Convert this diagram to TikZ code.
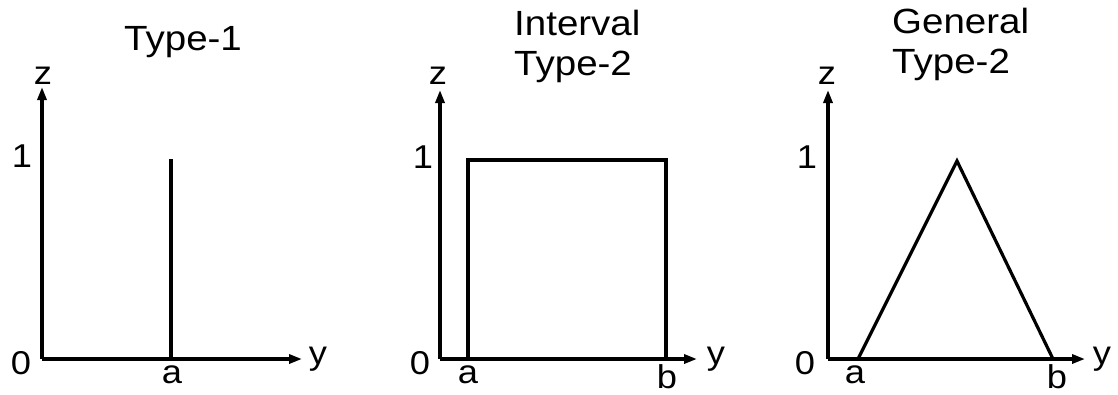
\documentclass[tikz,border=0pt]{standalone}
\usepackage{fontspec}
\setmainfont{Liberation Sans}
\usetikzlibrary{arrows.meta}
\newcommand{\wide}[1]{\scalebox{1.1}[1]{#1}}
\begin{document}
\begin{tikzpicture}[
  x=1pt, y=-1pt,
  axis/.style={line width=3.2pt, -{Triangle[length=13pt,width=9pt]}},
  curve/.style={line width=3.2pt, line join=miter},
  lbl/.style={font=\fontsize{33}{36}\selectfont, inner sep=0pt},
  title/.style={font=\fontsize{35}{40}\selectfont, inner sep=0pt, align=left, anchor=base west}
]
\useasboundingbox (0,0) rectangle (1118,394);
% Type-1
\node[title] (t1) at (124,50) {\wide{Type-1}};
\coordinate (o1) at (42,359);
\coordinate (z1) at (42,87);
\coordinate (y1) at (302,359);
\coordinate (a1) at (171,359);
\coordinate (p1) at (171,159);
\draw[axis] (o1) -- (z1);
\draw[axis] (o1) -- (y1);
\draw[curve] (a1) -- (p1);
\node[lbl] (zl1) at (43,76) {\wide{z}};
\node[lbl] (yl1) at (318,359) {\wide{y}};
\node[lbl] (one1) at (22,156) {\wide{1}};
\node[lbl] (zero1) at (21,363) {\wide{0}};
\node[lbl] (al1) at (172,375) {\wide{a}};
% Interval Type-2
\node[title] (t2) at (514,75) {\wide{Interval}\\\wide{Type-2}};
\coordinate (o2) at (440,359);
\coordinate (z2) at (440,90);
\coordinate (y2) at (697,359);
\coordinate (a2) at (468,359);
\coordinate (b2) at (666,359);
\draw[axis] (o2) -- (z2);
\draw[axis] (o2) -- (y2);
\draw[curve] (a2) |- (666,160) -- (b2);
\node[lbl] (zl2) at (438,76) {\wide{z}};
\node[lbl] (yl2) at (716,359) {\wide{y}};
\node[lbl] (one2) at (423,157) {\wide{1}};
\node[lbl] (zero2) at (420,363) {\wide{0}};
\node[lbl] (al2) at (468,375) {\wide{a}};
\node[lbl] (bl2) at (667,377) {\wide{b}};
% General Type-2
\node[title] (t3) at (892,73) {\wide{General}\\\wide{Type-2}};
\coordinate (o3) at (828,359);
\coordinate (z3) at (828,90);
\coordinate (y3) at (1085,359);
\coordinate (a3) at (858,359);
\coordinate (p3) at (957,161);
\coordinate (b3) at (1053,359);
\draw[axis] (o3) -- (z3);
\draw[axis] (o3) -- (y3);
\draw[curve] (a3) -- (p3) -- (b3);
\node[lbl] (zl3) at (827,76) {\wide{z}};
\node[lbl] (yl3) at (1102,359) {\wide{y}};
\node[lbl] (one3) at (807,157) {\wide{1}};
\node[lbl] (zero3) at (805,363) {\wide{0}};
\node[lbl] (al3) at (855,375) {\wide{a}};
\node[lbl] (bl3) at (1057,377) {\wide{b}};
\end{tikzpicture}
\end{document}
